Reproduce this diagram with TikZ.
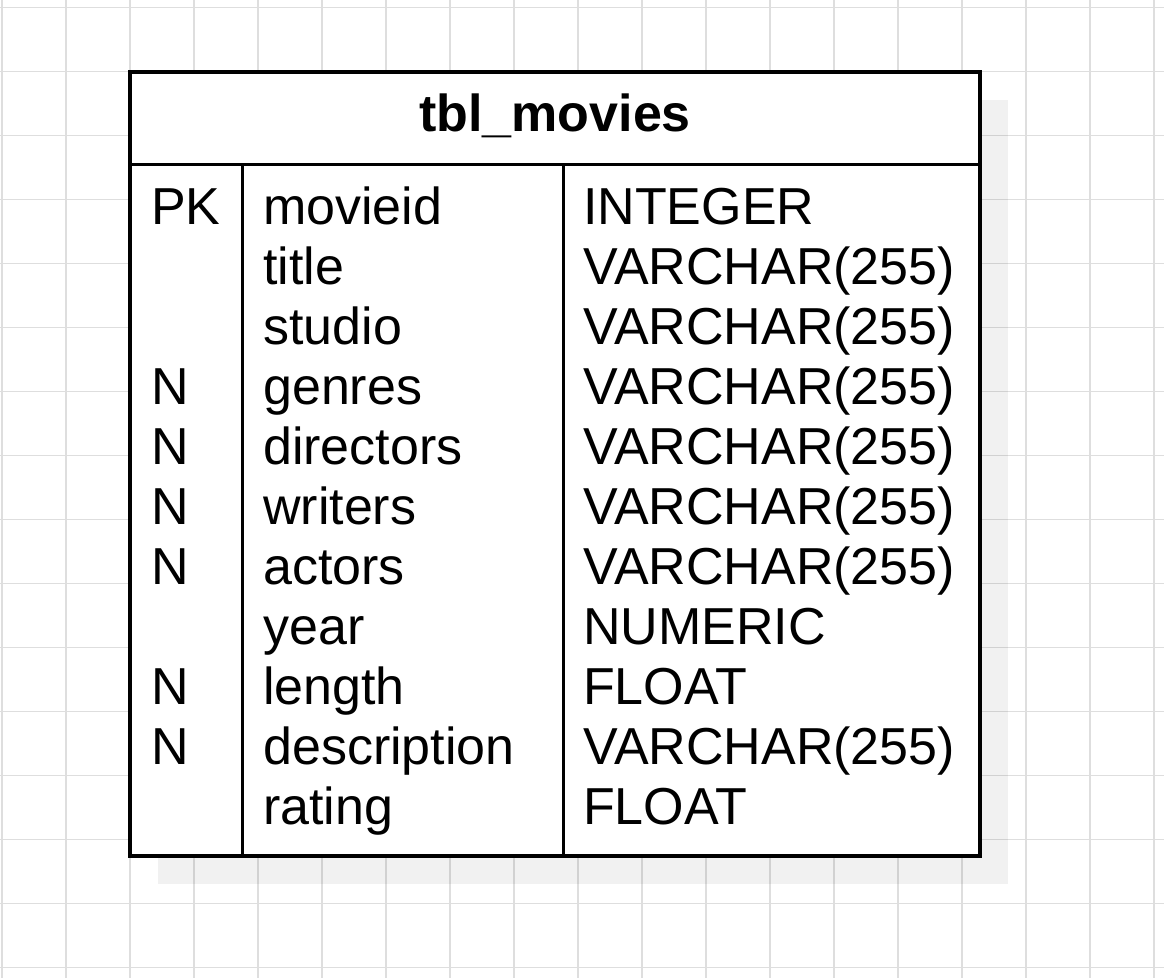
\documentclass[tikz,border=0pt]{standalone}
\usepackage{fontspec}
\setmainfont{Liberation Sans}
\begin{document}
\begin{tikzpicture}[x=1pt,y=-1pt,
  gridline/.style={draw=black!13,line width=1.8pt},
  border/.style={draw=black,line width=3.5pt},
  divider/.style={draw=black,line width=3pt},
  cell/.style={anchor=base west,inner sep=0pt,font=\fontsize{52}{60}\selectfont},
  head/.style={anchor=base,inner sep=0pt,font=\fontsize{52}{60}\selectfont\bfseries}]
\useasboundingbox[fill=white] (0,0) rectangle (1164,978);
% grid
\foreach \k in {0,...,18} \draw[gridline] ({2+64*\k},0) -- ({2+64*\k},978);
\foreach \k in {0,...,15} \draw[gridline] (0,{7.5+64*\k}) -- (1164,{7.5+64*\k});
% shadow
\fill[black,opacity=0.055] (158,100) rectangle (1008,884);
% table
\fill[white] (130,72) rectangle (980,856);
\draw[divider] (130,164) -- (980,164);
\draw[divider] (242,164) -- (242,856);
\draw[divider] (563,164) -- (563,856);
\draw[border] (130,72) rectangle (980,856);
\node[head] (title) at (555,131) {tbl\_movies};
\foreach \i/\k/\n/\t in {
  1/PK/movieid/INTEGER,
  2//title/VARCHAR(255),
  3//studio/VARCHAR(255),
  4/N/genres/VARCHAR(255),
  5/N/directors/VARCHAR(255),
  6/N/writers/VARCHAR(255),
  7/N/actors/VARCHAR(255),
  8//year/NUMERIC,
  9/N/length/FLOAT,
  10/N/description/VARCHAR(255),
  11//rating/FLOAT}{
  \node[cell] (k\i) at (151,{224.5+60*(\i-1)}) {\k};
  \node[cell] (n\i) at (263,{224.5+60*(\i-1)}) {\n};
  \node[cell] (t\i) at (583,{224.5+60*(\i-1)}) {\t};
}
\end{tikzpicture}
\end{document}
